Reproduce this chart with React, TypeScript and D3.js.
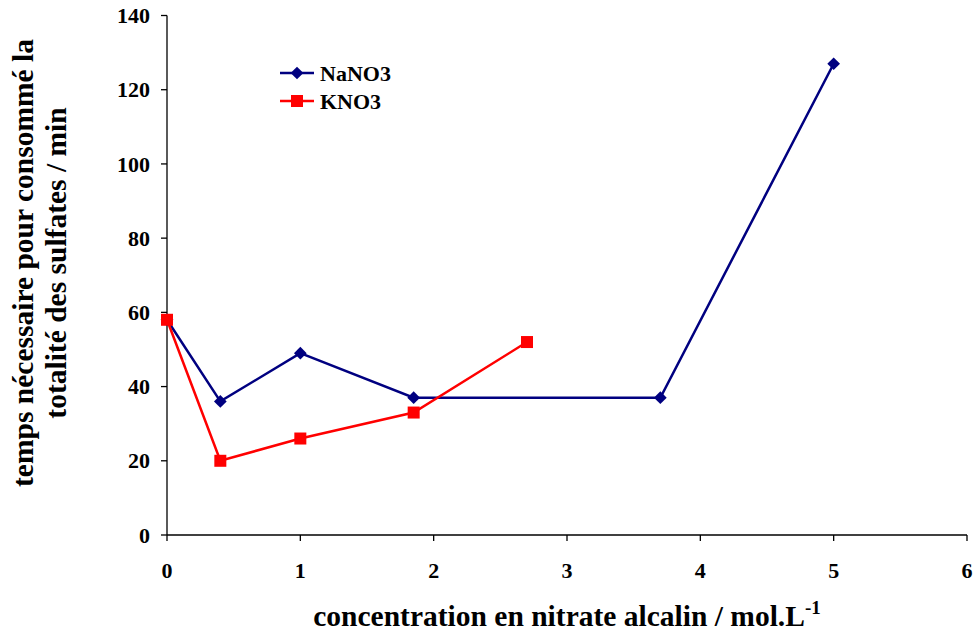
import React from "react";
import * as d3 from "d3";

const naX = [0, 0.4, 1, 1.85, 3.7, 5];
const naY = [58, 36, 49, 37, 37, 127];
const kX = [0, 0.4, 1, 1.85, 2.7];
const kY = [58, 20, 26, 33, 52];
const xTicks = [0, 1, 2, 3, 4, 5, 6];
const yTicks = [0, 20, 40, 60, 80, 100, 120, 140];
const seriesNames = ["NaNO3", "KNO3"];

const W = 975, H = 631;
const FONT = "'Liberation Serif', 'Times New Roman', serif";

export default function App() {
  const x = d3.scaleLinear().domain([0, 6]).range([167, 967]);
  const y = d3.scaleLinear().domain([0, 140]).range([535, 15.5]);
  const line = d3.line<[number, number]>().x(d => x(d[0])).y(d => y(d[1]));
  const na = naX.map((v, i) => [v, naY[i]] as [number, number]);
  const k = kX.map((v, i) => [v, kY[i]] as [number, number]);
  const blue = "#000080";
  const red = "#FF0000";
  return (
    <svg width={W} height={H} style={{ position: "absolute", left: 0, top: 0 }} fontFamily={FONT}>
      <rect width={W} height={H} fill="#fff" />
      {/* axes */}
      <line x1={x(0)} x2={x(0)} y1={y(140)} y2={y(0)} stroke="#000" strokeWidth={1.3} />
      <line x1={x(0)} x2={x(6)} y1={y(0)} y2={y(0)} stroke="#000" strokeWidth={1.3} />
      {yTicks.map(t => (
        <g key={"y" + t}>
          <line x1={x(0) - 6} x2={x(0)} y1={y(t)} y2={y(t)} stroke="#000" strokeWidth={1.3} />
          <text x={150} y={y(t)} dy="0.35em" textAnchor="end" fontSize={22} fontWeight="bold">{t}</text>
        </g>
      ))}
      {xTicks.map(t => (
        <g key={"x" + t}>
          <line x1={x(t)} x2={x(t)} y1={y(0)} y2={y(0) + 6} stroke="#000" strokeWidth={1.3} />
          <text x={x(t)} y={578} textAnchor="middle" fontSize={22} fontWeight="bold">{t}</text>
        </g>
      ))}
      {/* series */}
      <path d={line(na) || ""} fill="none" stroke={blue} strokeWidth={2.5} />
      {na.map((d, i) => (
        <rect key={"n" + i} x={-4.5} y={-4.5} width={9} height={9} fill={blue}
          transform={`translate(${x(d[0])},${y(d[1])}) rotate(45)`} />
      ))}
      <path d={line(k) || ""} fill="none" stroke={red} strokeWidth={2.5} />
      {k.map((d, i) => (
        <rect key={"k" + i} x={x(d[0]) - 6} y={y(d[1]) - 6} width={12} height={12} fill={red} />
      ))}
      {/* legend */}
      <line x1={280} x2={314} y1={73} y2={73} stroke={blue} strokeWidth={2.5} />
      <rect x={-4.5} y={-4.5} width={9} height={9} fill={blue} transform="translate(297,73) rotate(45)" />
      <text x={320} y={73} dy="0.35em" fontSize={22} fontWeight="bold">{seriesNames[0]}</text>
      <line x1={280} x2={314} y1={101} y2={101} stroke={red} strokeWidth={2.5} />
      <rect x={291} y={95} width={12} height={12} fill={red} />
      <text x={320} y={101} dy="0.35em" fontSize={22} fontWeight="bold">{seriesNames[1]}</text>
      {/* axis titles */}
      <text transform="translate(33,263) rotate(-90)" textAnchor="middle" fontSize={29.5} fontWeight="bold">temps nécessaire pour consommé la</text>
      <text transform="translate(66,263) rotate(-90)" textAnchor="middle" fontSize={29.5} fontWeight="bold">totalité des sulfates / min</text>
      <text x={567} y={626} textAnchor="middle" fontSize={29.5} fontWeight="bold">
        concentration en nitrate alcalin / mol.L<tspan dy={-12} fontSize={19}>-1</tspan>
      </text>
    </svg>
  );
}
